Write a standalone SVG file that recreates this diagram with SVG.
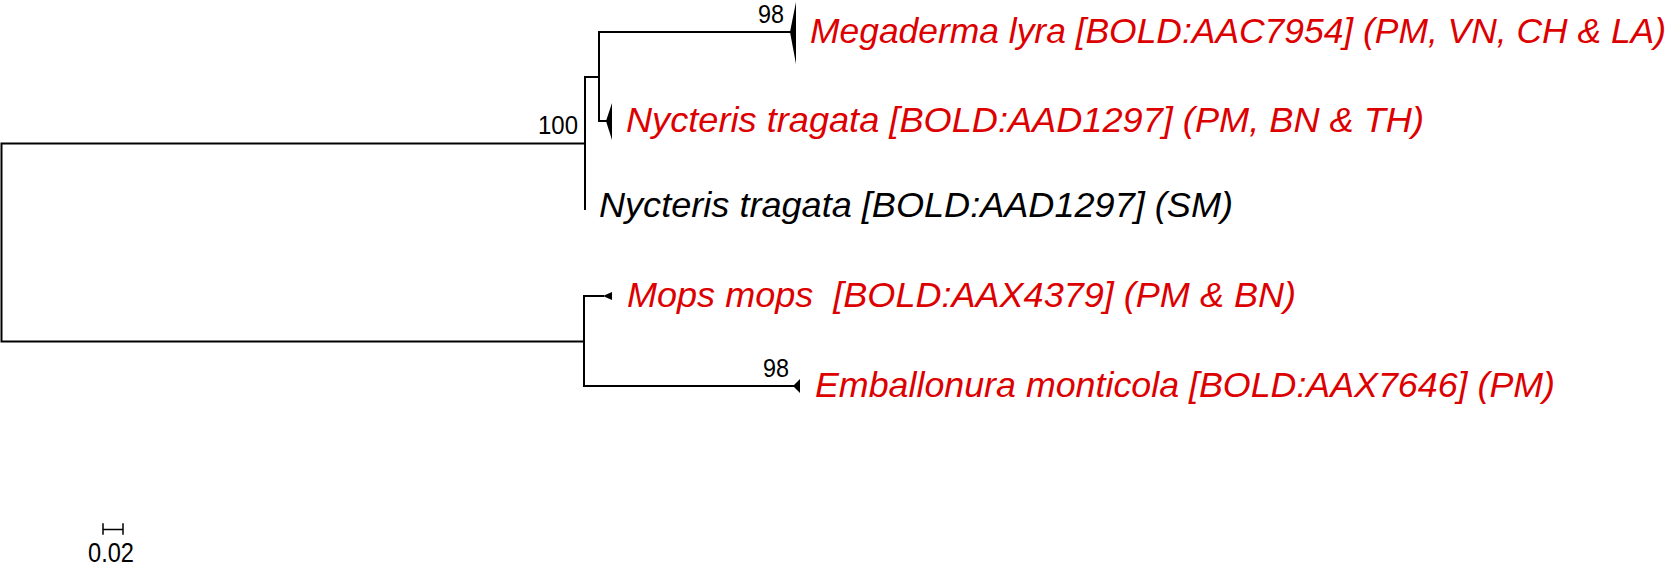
<svg xmlns="http://www.w3.org/2000/svg" width="1670" height="569" viewBox="0 0 1670 569">
<style>
.br{stroke:#000;stroke-width:2;fill:none;stroke-linecap:square}
.tri{fill:#000;stroke:none}
.lab{font-family:"Liberation Sans",Arial,sans-serif;font-style:italic;font-size:35px;white-space:pre}
.red{fill:#dd0000}
.blk{fill:#000}
.num{font-family:"Liberation Sans",Arial,sans-serif;font-size:26px;fill:#000}
</style>
<rect width="1670" height="569" fill="#fff"/>
<g id="connectors">
<path class="br" d="M1.5,143.5V341.5M1.5,143.5H585M1.5,341.5H584"/>
<path class="br" d="M585,77V209M585,77H599M599,32V121M599,32H790M599,121H606"/>
<path class="br" d="M584,296V386M584,296H603M584,386H793"/>
</g>
<g id="megaderma">
<polygon class="tri" points="790,32 796,2 796,64"/>
<text class="num" x="758" y="23" textLength="26" lengthAdjust="spacingAndGlyphs">98</text>
<text class="lab red" x="810" y="43" textLength="856" lengthAdjust="spacingAndGlyphs">Megaderma lyra [BOLD:AAC7954] (PM, VN, CH &amp; LA)</text>
</g>
<g id="nycteris-red">
<polygon class="tri" points="606,121 612,103 612,140"/>
<text class="lab red" x="626" y="131.5" textLength="798" lengthAdjust="spacingAndGlyphs">Nycteris tragata [BOLD:AAD1297] (PM, BN &amp; TH)</text>
</g>
<g id="clade-a">
<text class="num" x="538" y="134" textLength="40" lengthAdjust="spacingAndGlyphs">100</text>
</g>
<g id="nycteris-black">
<text class="lab blk" x="599" y="217" textLength="634" lengthAdjust="spacingAndGlyphs">Nycteris tragata [BOLD:AAD1297] (SM)</text>
</g>
<g id="mops">
<polygon class="tri" points="603,296 612,292 612,300"/>
<text class="lab red" x="627" y="306.5" textLength="669" lengthAdjust="spacingAndGlyphs">Mops mops  [BOLD:AAX4379] (PM &amp; BN)</text>
</g>
<g id="emballonura">
<polygon class="tri" points="793,386 800,379 800,393"/>
<text class="num" x="763" y="377" textLength="26" lengthAdjust="spacingAndGlyphs">98</text>
<text class="lab red" x="815" y="397" textLength="740" lengthAdjust="spacingAndGlyphs">Emballonura monticola [BOLD:AAX7646] (PM)</text>
</g>
<g id="scale">
<path class="br" d="M103,529.5H123M103,524V534M123,524V534" style="stroke-width:1.5"/>
<text class="num" x="88" y="562" textLength="46" lengthAdjust="spacingAndGlyphs" style="font-size:27px">0.02</text>
</g>
</svg>
